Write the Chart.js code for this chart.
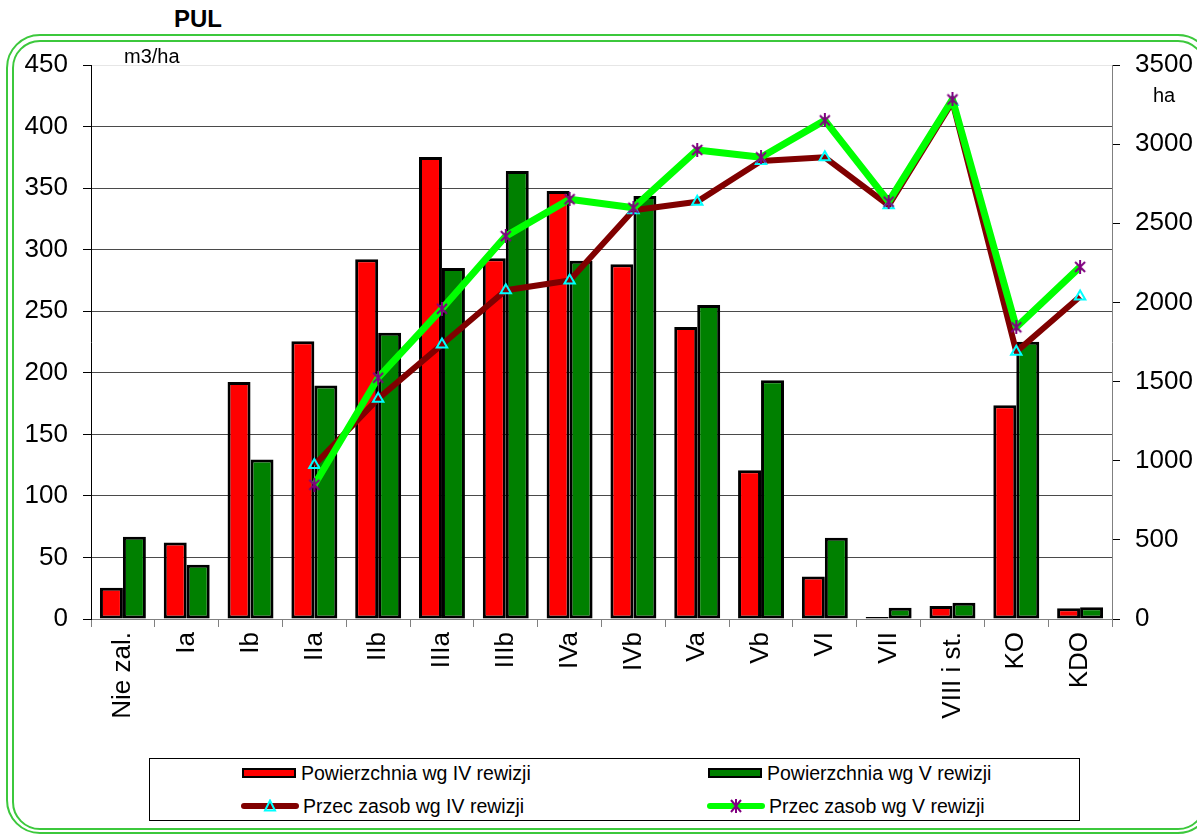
<!DOCTYPE html>
<html>
<head>
<meta charset="utf-8">
<script src="https://cdn.jsdelivr.net/npm/chart.js@4/dist/chart.umd.min.js"></script>
<style>
  html, body { margin:0; padding:0; background:#fff; width:1197px; height:834px; overflow:hidden; font-family:'Liberation Sans', Arial, sans-serif; }
  #wrap { position:relative; width:1197px; height:834px; }
  #c { position:absolute; left:0; top:0; }
  .frame { position:absolute; border:2px solid #3CC83C; box-sizing:border-box; }
  .lbl { position:absolute; color:#000; white-space:nowrap; }
  #legend { position:absolute; left:149px; top:758px; width:931px; height:63px; border:1.5px solid #000; box-sizing:border-box; background:#fff; }
  .li { position:absolute; height:24px; display:flex; align-items:center; font-size:19.5px; color:#000; white-space:nowrap; }
  .li svg { margin-right:4px; }
</style>
</head>
<body>
<div id="wrap">
  <div class="frame" style="left:6px; top:34px; width:1206px; height:800px; border-radius:34px;"></div>
  <div class="frame" style="left:12px; top:40px; width:1194px; height:790px; border-radius:28px;"></div>
  <div class="lbl" style="left:174px; top:5px; font-size:24px; font-weight:bold;">PUL</div>
  <canvas id="c" width="1197" height="834"></canvas>
  <div class="lbl" style="left:124px; top:45px; font-size:20px;">m3/ha</div>
  <div class="lbl" style="left:1153px; top:84px; font-size:20px;">ha</div>
  <div id="legend"></div>
</div>
<script>
const categories = ['Nie zal.', 'Ia', 'Ib', 'IIa', 'IIb', 'IIIa', 'IIIb', 'IVa', 'IVb', 'Va', 'Vb', 'VI', 'VII', 'VIII i st.', 'KO', 'KDO'];
const seriesLabels = ['Powierzchnia wg IV rewizji', 'Powierzchnia wg V rewizji', 'Przec zasob wg IV rewizji', 'Przec zasob wg V rewizji'];
// area (ha) - right axis
const areaIV = [198, 483, 1498, 1755, 2273, 2918, 2279, 2704, 2241, 1844, 939, 269, 12, 82, 1350, 68];
const areaV  = [520, 342, 1008, 1475, 1808, 2218, 2831, 2264, 2672, 1983, 1509, 513, 71, 103, 1751, 75];
// average stock (m3/ha) - left axis
const stockIV = [null, null, null, 125, 179, 223, 267, 275, 332, 339, 372, 375, 336, 420, 217, 262];
const stockV  = [null, null, null, 109, 196, 252, 311, 341, 334, 381, 375, 405, 339, 422, 237, 286];
const leftTicks = { min: 0, max: 450, step: 50 };
const rightTicks = { min: 0, max: 3500, step: 500 };

// custom marker: X with vertical bar
function starMarker(color) {
  const s = 14, cv = document.createElement('canvas');
  cv.width = s; cv.height = s;
  const g = cv.getContext('2d');
  g.strokeStyle = color; g.lineWidth = 2;
  g.beginPath();
  g.moveTo(2, 2); g.lineTo(s - 2, s - 2);
  g.moveTo(s - 2, 2); g.lineTo(2, s - 2);
  g.moveTo(s / 2, 0); g.lineTo(s / 2, s);
  g.stroke();
  return cv;
}

const font = { family: "'Liberation Sans', Arial, sans-serif", size: 26 };

const chart = new Chart(document.getElementById('c'), {
  type: 'bar',
  data: {
    labels: categories,
    datasets: [
      { type: 'bar', label: seriesLabels[0], data: areaIV, yAxisID: 'yR', backgroundColor: '#FF0000', borderColor: '#000', borderWidth: 3, borderSkipped: false, order: 2, categoryPercentage: 0.72, barPercentage: 1.0 },
      { type: 'bar', label: seriesLabels[1], data: areaV, yAxisID: 'yR', backgroundColor: '#008000', borderColor: '#000', borderWidth: 3, borderSkipped: false, order: 3, categoryPercentage: 0.72, barPercentage: 1.0 },
      { type: 'line', label: seriesLabels[2], data: stockIV, yAxisID: 'yL', borderColor: '#800000', borderWidth: 6, tension: 0, order: 1,
        pointStyle: 'triangle', pointRadius: 6, pointBorderColor: '#00FFFF', pointBackgroundColor: 'rgba(0,0,0,0)', pointBorderWidth: 2, borderJoinStyle: 'round' },
      { type: 'line', label: seriesLabels[3], data: stockV, yAxisID: 'yL', borderColor: '#00FF00', borderWidth: 7, tension: 0, order: 0,
        pointStyle: starMarker('#800080'), pointRadius: 7, borderJoinStyle: 'round' }
    ]
  },
  options: {
    responsive: false,
    animation: false,
    layout: { padding: { top: 65, left: 0, right: 0, bottom: 0 } },
    plugins: { legend: { display: false }, tooltip: { enabled: false } },
    scales: {
      x: {
        grid: { display: true, drawOnChartArea: false, offset: true, tickLength: 8, color: '#808080', tickColor: '#808080' },
        border: { display: true, color: '#808080', width: 1 },
        ticks: { color: '#000', font: font, maxRotation: 90, minRotation: 90, padding: 5, autoSkip: false },
        afterFit: s => { s.height = 215; }
      },
      yL: {
        position: 'left', min: leftTicks.min, max: leftTicks.max,
        ticks: { stepSize: leftTicks.step, color: '#000', font: font, padding: 15, callback: v => String(v) },
        grid: { color: c => (c.tick && c.tick.value === leftTicks.max) ? '#e6e6e6' : '#4a4a4a', tickColor: '#000', tickLength: 8, lineWidth: 1 },
        border: { display: true, color: '#000', width: 1 },
        afterFit: s => { s.width = 91; }
      },
      yR: {
        position: 'right', min: rightTicks.min, max: rightTicks.max,
        ticks: { stepSize: rightTicks.step, color: '#000', font: font, padding: 15, callback: v => String(v) },
        grid: { drawOnChartArea: false, tickColor: '#000', tickLength: 8 },
        border: { display: true, color: '#808080', width: 1 },
        afterFit: s => { s.width = 85; }
      }
    }
  }
});

// HTML legend built from dataset labels
(function () {
  const lg = document.getElementById('legend');
  const pos = [[92, 2], [558, 2], [91, 35], [557, 35]];
  chart.data.datasets.forEach((ds, i) => {
    const d = document.createElement('div');
    d.className = 'li';
    d.style.left = pos[i][0] + 'px';
    d.style.top = pos[i][1] + 'px';
    let svg;
    if (ds.type === 'bar') {
      svg = '<svg width="55" height="12"><rect x="1" y="2" width="52" height="8" fill="' + ds.backgroundColor + '" stroke="#000" stroke-width="2"/></svg>';
    } else if (i === 2) {
      svg = '<svg width="58" height="14"><line x1="3" y1="7" x2="55" y2="7" stroke="' + ds.borderColor + '" stroke-width="6" stroke-linecap="round"/>' +
            '<polygon points="29,1.5 34,11.5 24,11.5" fill="none" stroke="#00FFFF" stroke-width="2"/></svg>';
    } else {
      svg = '<svg width="58" height="14"><line x1="3" y1="7" x2="55" y2="7" stroke="' + ds.borderColor + '" stroke-width="6" stroke-linecap="round"/>' +
            '<path d="M24,1 L34,13 M34,1 L24,13 M29,0 L29,14" stroke="#800080" stroke-width="2"/></svg>';
    }
    d.innerHTML = svg + '<span>' + ds.label + '</span>';
    lg.appendChild(d);
  });
})();
</script>
</body>
</html>
